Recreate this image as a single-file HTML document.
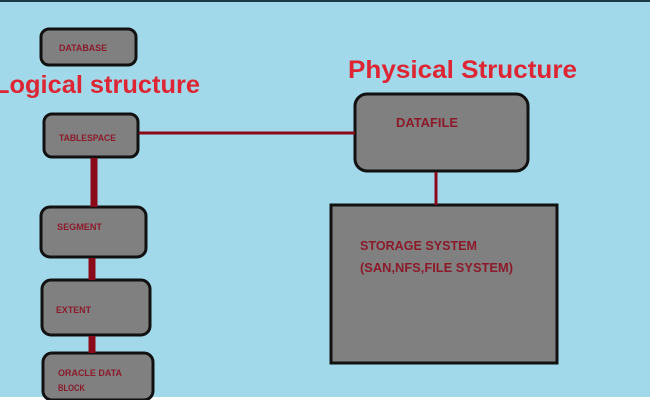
<!DOCTYPE html>
<html><head><meta charset="utf-8"><style>
html,body{margin:0;padding:0;width:650px;height:400px;overflow:hidden;background:#a2d9ea}
svg{display:block}
text{font-family:"Liberation Sans",sans-serif;font-weight:bold}
</style></head><body>
<svg width="650" height="400" viewBox="0 0 650 400">
<rect x="0" y="0" width="650" height="400" fill="#a2d9ea"/>
<rect x="0" y="0" width="650" height="2" fill="#1a3a44"/>
<rect x="0" y="397" width="650" height="3" fill="#ffffff"/>
<g fill="#808080" stroke="#111" stroke-width="3">
<rect x="41" y="29" width="95" height="36" rx="8"/>
<rect x="44" y="114" width="94" height="43" rx="8"/>
<rect x="41" y="207" width="105" height="50" rx="9"/>
<rect x="42" y="280" width="108" height="55" rx="9"/>
<rect x="43" y="353" width="110" height="47" rx="9"/>
<rect x="355" y="94" width="173" height="77" rx="12"/>
<rect x="331" y="205" width="226" height="158" rx="0"/>
</g>
<g stroke="#8b0a1a" fill="none">
<line x1="94" y1="158" x2="94" y2="207" stroke-width="7"/>
<line x1="92" y1="258" x2="92" y2="280" stroke-width="7"/>
<line x1="92" y1="336" x2="92" y2="353" stroke-width="7"/>
<line x1="139" y1="133" x2="355" y2="133" stroke-width="3"/>
<line x1="436" y1="172" x2="436" y2="205" stroke-width="3"/>
</g>
<g fill="#8b1a2a" font-size="9">
<text x="59" y="51" textLength="48" lengthAdjust="spacingAndGlyphs">DATABASE</text>
<text x="59" y="141" textLength="57" lengthAdjust="spacingAndGlyphs">TABLESPACE</text>
<text x="57" y="230" textLength="45" lengthAdjust="spacingAndGlyphs">SEGMENT</text>
<text x="56" y="313" textLength="35" lengthAdjust="spacingAndGlyphs">EXTENT</text>
<text x="58" y="376" textLength="64" lengthAdjust="spacingAndGlyphs">ORACLE DATA</text>
<text x="58" y="391" textLength="27" lengthAdjust="spacingAndGlyphs">BLOCK</text>
</g>
<g fill="#8b1a2a" font-size="13">
<text x="396" y="127" textLength="62" lengthAdjust="spacingAndGlyphs">DATAFILE</text>
<text x="360" y="250" textLength="117" lengthAdjust="spacingAndGlyphs">STORAGE SYSTEM</text>
<text x="360" y="272" textLength="153" lengthAdjust="spacingAndGlyphs">(SAN,NFS,FILE SYSTEM)</text>
</g>
<g fill="#dd2533" font-size="25">
<text x="-6" y="93" textLength="206" lengthAdjust="spacingAndGlyphs">Logical structure</text>
<text x="348" y="78" textLength="229" lengthAdjust="spacingAndGlyphs">Physical Structure</text>
</g>
</svg>
</body></html>
